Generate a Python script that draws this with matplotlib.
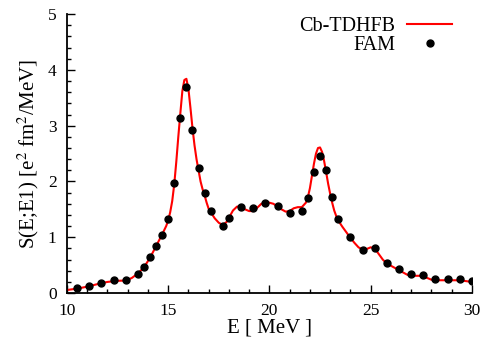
import numpy as np
import matplotlib
matplotlib.use("Agg")
import matplotlib.pyplot as plt
from matplotlib.ticker import MultipleLocator

# Cb-TDHFB strength function
e_cb = [10.0, 10.5, 11.0, 11.5, 12.0, 12.5, 12.9, 13.2, 13.5, 13.8, 14.1, 14.4,
        14.7, 14.9, 15.0, 15.1, 15.2, 15.3, 15.4, 15.5, 15.6, 15.7, 15.8, 15.9,
        16.0, 16.1, 16.2, 16.3, 16.4, 16.5, 16.6, 16.7, 16.8, 16.9, 17.0, 17.1,
        17.3, 17.5, 17.7, 17.9, 18.0, 18.2, 18.4, 18.6, 18.8, 19.0, 19.2, 19.4,
        19.6, 19.8, 20.0, 20.2, 20.4, 20.6, 20.8, 21.0, 21.2, 21.4, 21.6, 21.8,
        21.9, 22.0, 22.1, 22.2, 22.3, 22.4, 22.5, 22.6, 22.7, 22.8, 22.9, 23.0,
        23.1, 23.2, 23.3, 23.4, 23.6, 23.8, 24.0, 24.2, 24.4, 24.6, 24.8, 25.0,
        25.2, 25.4, 25.6, 25.8, 26.0, 26.2, 26.4, 26.6, 26.8, 27.0, 27.4, 27.6,
        27.8, 28.0, 28.4, 28.8, 29.2, 29.6, 30.0]
s_cb = [0.055, 0.08, 0.115, 0.16, 0.2, 0.22, 0.225, 0.27, 0.35, 0.46, 0.63, 0.84,
        1.05, 1.2, 1.3, 1.45, 1.65, 1.95, 2.35, 2.8, 3.22, 3.62, 3.82, 3.84,
        3.66, 3.32, 2.96, 2.65, 2.4, 2.2, 2.0, 1.86, 1.75, 1.62, 1.51, 1.45,
        1.34, 1.26, 1.22, 1.28, 1.35, 1.48, 1.55, 1.55, 1.5, 1.47, 1.47, 1.53,
        1.6, 1.62, 1.62, 1.6, 1.55, 1.5, 1.46, 1.47, 1.52, 1.54, 1.54, 1.62,
        1.72, 1.88, 2.1, 2.32, 2.5, 2.6, 2.61, 2.53, 2.37, 2.17, 1.96, 1.78,
        1.62, 1.48, 1.38, 1.3, 1.19, 1.09, 0.99, 0.9, 0.82, 0.78, 0.79, 0.82,
        0.8, 0.7, 0.6, 0.53, 0.49, 0.45, 0.41, 0.37, 0.33, 0.31, 0.31, 0.3,
        0.27, 0.24, 0.23, 0.23, 0.23, 0.22, 0.2]

# FAM points
e_fam = [10.5, 11.1, 11.7, 12.3, 12.9, 13.5, 13.8, 14.1, 14.4, 14.7, 15.0, 15.3,
         15.6, 15.9, 16.2, 16.5, 16.8, 17.1, 17.7, 18.0, 18.6, 19.2, 19.8, 20.4,
         21.0, 21.6, 21.9, 22.2, 22.5, 22.8, 23.1, 23.4, 24.0, 24.6, 25.2, 25.8,
         26.4, 27.0, 27.6, 28.2, 28.8, 29.4, 30.0]
s_fam = [0.085, 0.125, 0.185, 0.227, 0.233, 0.35, 0.47, 0.64, 0.85, 1.045, 1.33, 1.97,
         3.14, 3.70, 2.93, 2.25, 1.79, 1.475, 1.21, 1.35, 1.535, 1.52, 1.62, 1.56,
         1.43, 1.475, 1.70, 2.17, 2.45, 2.21, 1.73, 1.32, 1.00, 0.78, 0.806, 0.54,
         0.44, 0.34, 0.33, 0.245, 0.25, 0.245, 0.21]

plt.rcParams['font.family'] = ['Liberation Serif', 'DejaVu Serif']
plt.rcParams['mathtext.fontset'] = 'stix'

fig = plt.figure(figsize=(4.85, 3.44), dpi=100)
ax = fig.add_axes([0.138, 0.148, 0.835, 0.811])

ax.plot(e_cb, s_cb, color='#ff0000', lw=1.5, label='Cb-TDHFB', zorder=2)
ax.plot(e_fam, s_fam, 'o', color='black', ms=5, label='FAM', zorder=3)

ax.set_xlim(10, 30)
ax.set_ylim(0, 5)
ax.xaxis.set_major_locator(MultipleLocator(5))
ax.xaxis.set_minor_locator(MultipleLocator(1))
ax.yaxis.set_major_locator(MultipleLocator(1))
ax.yaxis.set_minor_locator(MultipleLocator(0.2))

for s in ['top', 'right']:
    ax.spines[s].set_visible(False)
for s in ['left', 'bottom']:
    ax.spines[s].set_linewidth(1.3)

ax.tick_params(which='both', direction='in', top=False, right=False,
               labelsize=12.5, width=1.0)
ax.tick_params(which='major', length=6)
ax.tick_params(which='minor', length=3)
ax.tick_params(axis='x', which='major', pad=7)
ax.tick_params(axis='y', which='major', pad=7.5)

ax.set_xlabel('E [ MeV ]', fontsize=15, labelpad=0)
ax.set_ylabel(r'S(E;E1) [e$^2$ fm$^2$/MeV]', fontsize=15, labelpad=5)

ax.legend(loc='upper right', bbox_to_anchor=(0.995, 1.056), frameon=False,
          markerfirst=False, fontsize=14.5, handlelength=2.2,
          labelspacing=0.0, handletextpad=0.6)

fig.savefig('out.png', dpi=100)
